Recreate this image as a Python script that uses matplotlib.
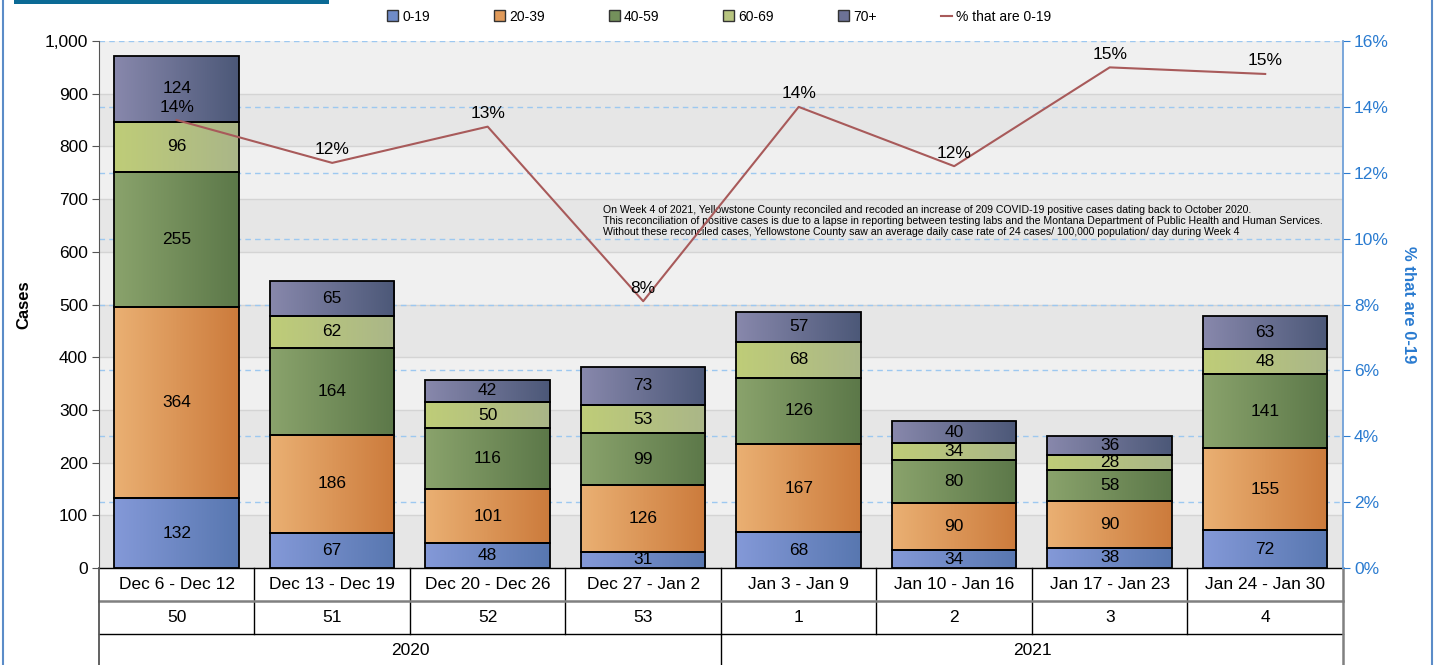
import numpy as np
import matplotlib
matplotlib.use('Agg')
import matplotlib.pyplot as plt
from matplotlib.colors import LinearSegmentedColormap
from matplotlib.patches import Patch, Rectangle
from matplotlib.lines import Line2D
from matplotlib.transforms import blended_transform_factory

plt.rcParams['font.family'] = ['Liberation Sans', 'DejaVu Sans']

weeks = ['Dec 6 - Dec 12', 'Dec 13 - Dec 19', 'Dec 20 - Dec 26', 'Dec 27 - Jan 2',
         'Jan 3 - Jan 9', 'Jan 10 - Jan 16', 'Jan 17 - Jan 23', 'Jan 24 - Jan 30']
week_nums = ['50', '51', '52', '53', '1', '2', '3', '4']
years = ['2020', '2021']
age_groups = ['0-19', '20-39', '40-59', '60-69', '70+']
c0_19 = [132, 67, 48, 31, 68, 34, 38, 72]
c20_39 = [364, 186, 101, 126, 167, 90, 90, 155]
c40_59 = [255, 164, 116, 99, 126, 80, 58, 141]
c60_69 = [96, 62, 50, 53, 68, 34, 28, 48]
c70 = [124, 65, 42, 73, 57, 40, 36, 63]
pct = [13.6, 12.3, 13.4, 8.1, 14.0, 12.2, 15.2, 15.0]
pct_labels = ['14%', '12%', '13%', '8%', '14%', '12%', '15%', '15%']
note = ("On Week 4 of 2021, Yellowstone County reconciled and recoded an increase of 209 COVID-19 positive cases dating back to October 2020.\n"
        "This reconciliation of positive cases is due to a lapse in reporting between testing labs and the Montana Department of Public Health and Human Services.\n"
        "Without these reconciled cases, Yellowstone County saw an average daily case rate of 24 cases/ 100,000 population/ day during Week 4")

series = [c0_19, c20_39, c40_59, c60_69, c70]
grads = [('#8499d8', '#5877b0'), ('#eab073', '#cc7b3c'), ('#8aa36c', '#5c7849'),
         ('#bfcd78', '#aab688'), ('#8888ac', '#4c5878')]
legend_cols = ['#6f8bc8', '#e09a5a', '#74905b', '#b8c580', '#6c7296']
line_col = '#a85a5a'
blue = '#2a7bd0'

fig = plt.figure(figsize=(14.38, 6.65), dpi=100)
ax = fig.add_axes([0.0688, 0.1459, 0.8651, 0.7924])
ax2 = ax.twinx()

x = np.arange(len(weeks))
ax.set_xlim(-0.5, len(weeks) - 0.5)
ax.set_ylim(0, 1000)
ax2.set_ylim(0, 16)

# alternating background bands
for i, y0 in enumerate(range(0, 1000, 100)):
    ax.axhspan(y0, y0 + 100, color='#e6e6e6' if i % 2 == 0 else '#f0f0f0', zorder=0, lw=0)
    ax.axhline(y0, color='#d4d4d4', lw=1, zorder=0.5)
ax.hlines(np.arange(2, 17, 2), 0, 1, transform=blended_transform_factory(ax.transAxes, ax2.transData),
          colors='#9dc8f0', linestyles=(0, (4, 3)), lw=1, zorder=0.6)

bottom = np.zeros(len(weeks))
for vals, (c1, c2) in zip(series, grads):
    cmap = LinearSegmentedColormap.from_list('g', [c1, c2])
    bars = ax.bar(x, vals, 0.8, bottom=bottom, facecolor='none', edgecolor='black', lw=1.3, zorder=3)
    for b, v in zip(bars, vals):
        x0, y0, w, h = b.get_x(), b.get_y(), b.get_width(), b.get_height()
        im = ax.imshow(np.linspace(0, 1, 128)[None, :], extent=[x0, x0 + w, y0, y0 + h],
                       cmap=cmap, aspect='auto', zorder=2, interpolation='bilinear')
        im.set_clip_path(b)
        ax.text(x0 + w / 2, y0 + h / 2, str(v), ha='center', va='center', fontsize=12.5, zorder=4)
    bottom += np.array(vals)

ax.set_xlim(-0.5, len(weeks) - 0.5)
ax.set_ylim(0, 1000)

ax2.plot(x, pct, color=line_col, lw=1.5, zorder=5)
for xi, p, lab in zip(x, pct, pct_labels):
    ax2.annotate(lab, (xi, p), xytext=(0, 4), textcoords='offset points',
                 ha='center', va='bottom', fontsize=12.5, zorder=6)

ax.text(2.74, 688, note, fontsize=7.6, va='top', ha='left', linespacing=1.08, zorder=7)

# axes styling
ax.set_yticks(range(0, 1001, 100))
ax.set_yticklabels([f'{v:,}' for v in range(0, 1001, 100)], fontsize=12.5)
ax.tick_params(axis='y', length=5, color='#555555', pad=3)
ax.set_xticks([])
for s in ['top', 'right', 'bottom']:
    ax.spines[s].set_visible(False)
ax.spines['left'].set_color('#555555')
ax.spines['left'].set_bounds(0, 1000)
ax.set_ylabel('Cases', fontsize=12, fontweight='bold')
ax.yaxis.set_label_coords(-0.054, 0.5)

ax2.set_yticks(range(0, 17, 2))
ax2.set_yticklabels([f'{v}%' for v in range(0, 17, 2)], fontsize=12.5, color=blue)
ax2.tick_params(axis='y', length=5, color=blue, pad=3)
for s in ['top', 'left', 'bottom']:
    ax2.spines[s].set_visible(False)
ax2.spines['right'].set_color('#6fa0d8')
ax2.spines['right'].set_linewidth(1.3)
ax2.set_ylabel('% that are 0-19', fontsize=12, fontweight='bold', color=blue, rotation=270, va='center')
ax2.yaxis.set_label_coords(1.053, 0.5)

# category table below the axis
tr = blended_transform_factory(ax.transData, ax.transAxes)
rh = 33 / 527
for i, (w, n) in enumerate(zip(weeks, week_nums)):
    ax.text(i, -rh / 2, w, transform=tr, ha='center', va='center', fontsize=12.5, clip_on=False)
    ax.text(i, -1.5 * rh, n, transform=tr, ha='center', va='center', fontsize=12.5, clip_on=False)
half = len(weeks) // 2
for j, yr in enumerate(years):
    ax.text(j * half + (half - 1) / 2, -2.5 * rh, yr, transform=tr, ha='center', va='center',
            fontsize=12.5, clip_on=False)
for i in range(1, len(weeks)):
    ax.plot([i - 0.5, i - 0.5], [0, -2 * rh], transform=tr, color='black', lw=1, clip_on=False)
ax.plot([half - 0.5, half - 0.5], [-2 * rh, -3.2 * rh], transform=tr, color='black', lw=1, clip_on=False)
ax.plot([-0.5, len(weeks) - 0.5], [-rh, -rh], transform=tr, color='#808080', lw=1.8, clip_on=False)
ax.plot([-0.5, len(weeks) - 0.5], [-2 * rh, -2 * rh], transform=tr, color='black', lw=1, clip_on=False)
ax.plot([-0.5, len(weeks) - 0.5], [0, 0], transform=tr, color='black', lw=1, clip_on=False)
ax.plot([-0.5, -0.5], [0, -3.2 * rh], transform=tr, color='#555555', lw=1.3, clip_on=False)
ax.plot([len(weeks) - 0.5] * 2, [0, -3.2 * rh], transform=tr, color='#808080', lw=1.8, clip_on=False)

# legend
handles = [Patch(facecolor=c, edgecolor='#333333', lw=1) for c in legend_cols]
handles.append(Line2D([], [], color=line_col, lw=1.5))
fig.legend(handles, age_groups + ['% that are 0-19'], loc='center', bbox_to_anchor=(0.5, 0.975),
           ncol=6, frameon=False, fontsize=10, handlelength=0.8, handleheight=0.8,
           handletextpad=0.3, columnspacing=4.6)

# page frame and title box
fig.add_artist(Rectangle((14 / 1438, 661 / 665), 315 / 1438, 4 / 665, transform=fig.transFigure,
                         facecolor='#0b6a95', edgecolor='none'))
fig.add_artist(Line2D([2.5 / 1438] * 2, [0, 1], transform=fig.transFigure, color='#5b8cc8', lw=1.5))
fig.add_artist(Line2D([1431.5 / 1438] * 2, [0, 1], transform=fig.transFigure, color='#5b8cc8', lw=1.5))

fig.savefig('out.png', dpi=100)
